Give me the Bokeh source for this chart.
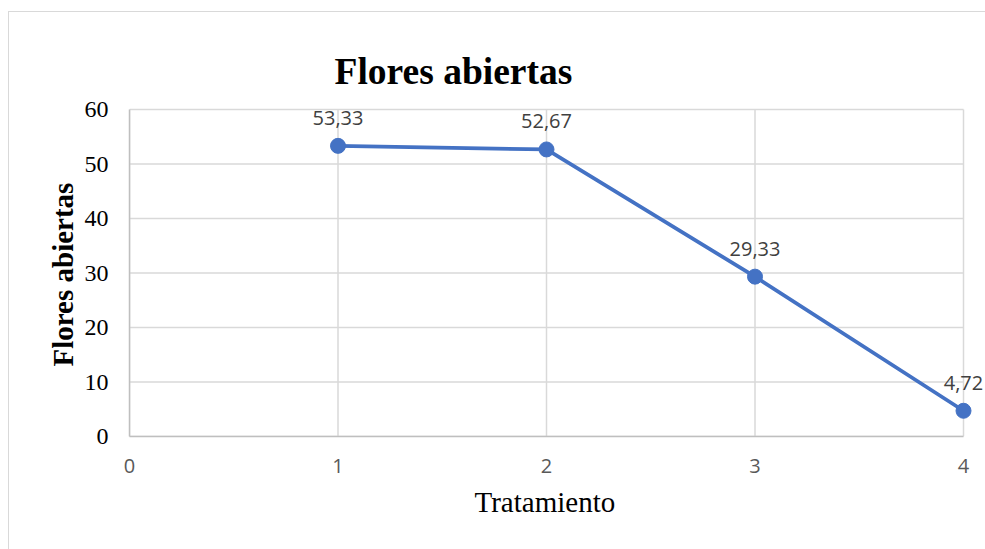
from bokeh.plotting import figure
from bokeh.models import FixedTicker, Range1d, Label, Title
from bokeh.embed import file_html
from bokeh.resources import INLINE

tratamiento = [1, 2, 3, 4]
flores = [53.33, 52.67, 29.33, 4.72]
etiquetas = ["53,33", "52,67", "29,33", "4,72"]
y_ticks = [0, 10, 20, 30, 40, 50, 60]
x_ticks = [0, 1, 2, 3, 4]

x0, x1 = x_ticks[0], x_ticks[-1]
y0, y1 = y_ticks[0], y_ticks[-1]

p = figure(width=977, height=538, output_backend="svg", toolbar_location=None,
           x_range=Range1d(x0, x1 * 857 / 834), y_range=Range1d(y0, y1 * 338 / 327),
           min_border_left=120, min_border_right=0, min_border_top=86, min_border_bottom=114,
           title="Flores abiertas")
p.margin = (11, 0, 0, 8)
p.styles = {"border-left": "1px solid #d9d9d9", "border-top": "1px solid #d9d9d9"}
p.outline_line_color = None
p.background_fill_color = "white"
p.border_fill_color = "white"

p.title.text_font = "Liberation Serif"
p.title.text_font_style = "bold"
p.title.text_font_size = "37.5px"
p.title.text_color = "black"
p.title.align = "left"
p.title.offset = 205
p.title.standoff = 14

# grid lines limited to the data area
p.grid.visible = False
p.segment(x0=[x0] * len(y_ticks), y0=y_ticks, x1=[x1] * len(y_ticks), y1=y_ticks,
          line_color="#d9d9d9", line_width=1.5, level="underlay")
p.segment(x0=x_ticks, y0=[y0] * len(x_ticks), x1=x_ticks, y1=[y1] * len(x_ticks),
          line_color="#d9d9d9", line_width=1.5, level="underlay")

p.line(tratamiento, flores, line_color="#4472C4", line_width=3.8)
p.scatter(tratamiento, flores, size=15, fill_color="#4472C4", line_color="#4472C4")

for xv, yv, t in zip(tratamiento, flores, etiquetas):
    p.add_layout(Label(x=xv, y=yv, text=t, text_align="center",
                       text_baseline="alphabetic", y_offset=28,
                       text_font="Open Sans", text_font_size="20px",
                       text_color="#404040"))

p.xaxis.ticker = FixedTicker(ticks=x_ticks)
p.yaxis.ticker = FixedTicker(ticks=y_ticks)
p.xaxis.bounds = (x0, x1)
p.yaxis.bounds = (y0, y1)

for ax in (p.xaxis, p.yaxis):
    ax.axis_line_color = "#bfbfbf"
    ax.axis_line_width = 1.5
    ax.major_tick_line_color = None
    ax.minor_tick_line_color = None

p.yaxis.major_label_text_font = "Liberation Serif"
p.yaxis.major_label_text_font_size = "24px"
p.yaxis.major_label_text_color = "black"
p.yaxis.major_label_standoff = 15

p.xaxis.major_label_text_font = "Open Sans"
p.xaxis.major_label_text_font_size = "20px"
p.xaxis.major_label_text_color = "#595959"
p.xaxis.major_label_standoff = 16

xlab = Title(text="Tratamiento", text_font="Liberation Serif", text_font_style="normal",
             text_font_size="29px", text_color="black", align="left", offset=345, standoff=17)
p.add_layout(xlab, "below")

ylab = Title(text="Flores abiertas", text_font="Liberation Serif", text_font_style="bold",
             text_font_size="29px", text_color="black", align="left", offset=70, standoff=6)
p.add_layout(ylab, "left")

open("out.html", "w").write(file_html(p, INLINE))
